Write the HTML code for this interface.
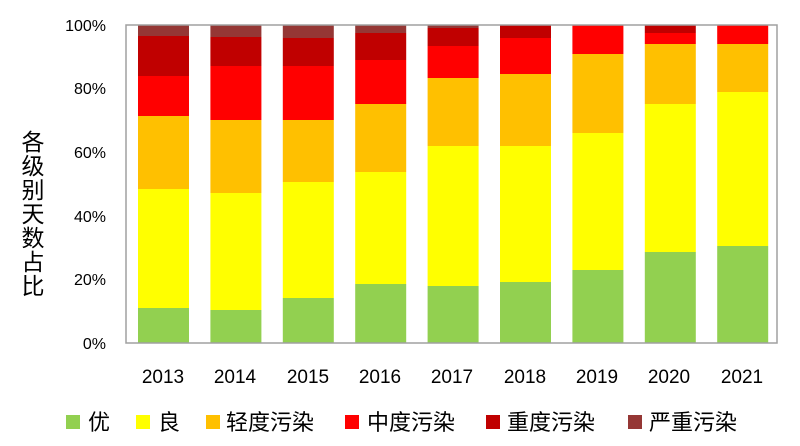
<!DOCTYPE html>
<html><head><meta charset="utf-8"><style>
body{margin:0;background:#fff;}
svg{display:block;font-family:"Liberation Sans","Noto Sans CJK SC",sans-serif;}
</style></head><body>
<svg width="800" height="446" xmlns="http://www.w3.org/2000/svg">
<rect x="0" y="0" width="800" height="446" fill="#fff"/>
<g>
<rect x="138" y="308" width="51" height="35" fill="#92d050"/><rect x="138" y="189" width="51" height="119" fill="#ffff00"/><rect x="138" y="116" width="51" height="73" fill="#ffc000"/><rect x="138" y="76" width="51" height="40" fill="#ff0000"/><rect x="138" y="36" width="51" height="40" fill="#c00000"/><rect x="138" y="25" width="51" height="11" fill="#953735"/>
<rect x="210.4" y="310" width="51" height="33" fill="#92d050"/><rect x="210.4" y="193" width="51" height="117" fill="#ffff00"/><rect x="210.4" y="120" width="51" height="73" fill="#ffc000"/><rect x="210.4" y="66" width="51" height="54" fill="#ff0000"/><rect x="210.4" y="37" width="51" height="29" fill="#c00000"/><rect x="210.4" y="25" width="51" height="12" fill="#953735"/>
<rect x="282.8" y="298" width="51" height="45" fill="#92d050"/><rect x="282.8" y="182" width="51" height="116" fill="#ffff00"/><rect x="282.8" y="120" width="51" height="62" fill="#ffc000"/><rect x="282.8" y="66" width="51" height="54" fill="#ff0000"/><rect x="282.8" y="38" width="51" height="28" fill="#c00000"/><rect x="282.8" y="25" width="51" height="13" fill="#953735"/>
<rect x="355.2" y="284" width="51" height="59" fill="#92d050"/><rect x="355.2" y="172" width="51" height="112" fill="#ffff00"/><rect x="355.2" y="104" width="51" height="68" fill="#ffc000"/><rect x="355.2" y="60" width="51" height="44" fill="#ff0000"/><rect x="355.2" y="33" width="51" height="27" fill="#c00000"/><rect x="355.2" y="25" width="51" height="8" fill="#953735"/>
<rect x="427.6" y="286" width="51" height="57" fill="#92d050"/><rect x="427.6" y="146" width="51" height="140" fill="#ffff00"/><rect x="427.6" y="78" width="51" height="68" fill="#ffc000"/><rect x="427.6" y="46" width="51" height="32" fill="#ff0000"/><rect x="427.6" y="28" width="51" height="18" fill="#c00000"/><rect x="427.6" y="25" width="51" height="3" fill="#953735"/>
<rect x="500" y="282" width="51" height="61" fill="#92d050"/><rect x="500" y="146" width="51" height="136" fill="#ffff00"/><rect x="500" y="74" width="51" height="72" fill="#ffc000"/><rect x="500" y="38" width="51" height="36" fill="#ff0000"/><rect x="500" y="25" width="51" height="13" fill="#c00000"/>
<rect x="572.4" y="270" width="51" height="73" fill="#92d050"/><rect x="572.4" y="133" width="51" height="137" fill="#ffff00"/><rect x="572.4" y="54" width="51" height="79" fill="#ffc000"/><rect x="572.4" y="25" width="51" height="29" fill="#ff0000"/>
<rect x="644.8" y="252" width="51" height="91" fill="#92d050"/><rect x="644.8" y="104" width="51" height="148" fill="#ffff00"/><rect x="644.8" y="44" width="51" height="60" fill="#ffc000"/><rect x="644.8" y="33" width="51" height="11" fill="#ff0000"/><rect x="644.8" y="25" width="51" height="8" fill="#c00000"/>
<rect x="717.2" y="246" width="51" height="97" fill="#92d050"/><rect x="717.2" y="92" width="51" height="154" fill="#ffff00"/><rect x="717.2" y="44" width="51" height="48" fill="#ffc000"/><rect x="717.2" y="25" width="51" height="19" fill="#ff0000"/>
</g>
<rect x="126" y="25" width="651" height="318" fill="none" stroke="#a0a0a0" stroke-width="1.5"/>
<g font-size="16" fill="#000" text-anchor="end">
<text x="106" y="349">0%</text>
<text x="106" y="285">20%</text>
<text x="106" y="222">40%</text>
<text x="106" y="158">60%</text>
<text x="106" y="94">80%</text>
<text x="106" y="31">100%</text>
</g>
<g font-size="19" fill="#000" text-anchor="middle" font-family="Liberation Sans, sans-serif">
<text x="163" y="383">2013</text><text x="235" y="383">2014</text><text x="308" y="383">2015</text>
<text x="380" y="383">2016</text><text x="452" y="383">2017</text><text x="525" y="383">2018</text>
<text x="597" y="383">2019</text><text x="669" y="383">2020</text><text x="742" y="383">2021</text>
</g>
<g font-size="23" fill="#000" text-anchor="middle">
<text x="33" y="150">各</text><text x="33" y="174">级</text><text x="33" y="198">别</text>
<text x="33" y="222">天</text><text x="33" y="246">数</text><text x="33" y="270">占</text><text x="33" y="294">比</text>
</g>
<g font-size="22" fill="#000">
<rect x="66" y="415" width="14" height="14" fill="#92d050"/><text x="88" y="430">优</text>
<rect x="136" y="415" width="14" height="14" fill="#ffff00"/><text x="158" y="430">良</text>
<rect x="206" y="415" width="14" height="14" fill="#ffc000"/><text x="226" y="430">轻度污染</text>
<rect x="345" y="415" width="14" height="14" fill="#ff0000"/><text x="367" y="430">中度污染</text>
<rect x="486" y="415" width="14" height="14" fill="#c00000"/><text x="507" y="430">重度污染</text>
<rect x="628" y="415" width="14" height="14" fill="#953735"/><text x="649" y="430">严重污染</text>
</g>
</svg>
</body></html>
